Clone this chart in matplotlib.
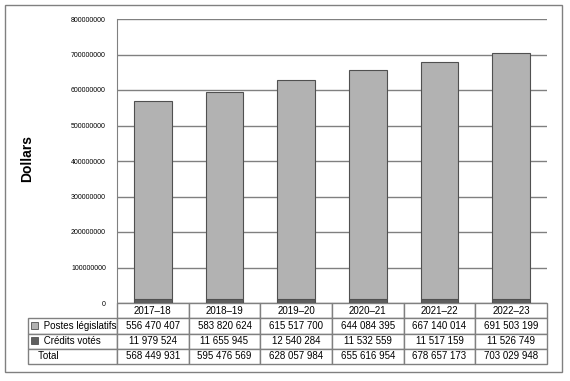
import matplotlib.pyplot as plt
from matplotlib.patches import Rectangle
import numpy as np

plt.rcParams['font.family'] = ['Liberation Sans', 'DejaVu Sans']

annees = ["2017–18", "2018–19", "2019–20", "2020–21", "2021–22", "2022–23"]
postes_legislatifs = [556470407, 583820624, 615517700, 644084395, 667140014, 691503199]
credits_votes = [11979524, 11655945, 12540284, 11532559, 11517159, 11526749]
total = [568449931, 595476569, 628057984, 655616954, 678657173, 703029948]

couleur_postes = "#b2b2b2"
couleur_credits = "#5f5f5f"
gris = "#808080"


def fmt(v):
    return f"{v:,}".replace(",", " ")


fig = plt.figure(figsize=(5.70, 3.81), dpi=100)
fig.patches.append(Rectangle((5 / 570, 1 - 372 / 381), 557 / 570, 367 / 381,
                             transform=fig.transFigure, fill=False,
                             edgecolor=gris, linewidth=1))

ax = fig.add_axes([117 / 570, 1 - 303 / 381, 430 / 570, 284 / 381])
x = np.arange(len(annees))
ax.bar(x, credits_votes, width=0.53, color=couleur_credits, edgecolor="#505050", linewidth=0.8)
ax.bar(x, postes_legislatifs, width=0.53, bottom=credits_votes, color=couleur_postes,
       edgecolor="#505050", linewidth=0.8)

ax.set_xlim(-0.5, len(annees) - 0.5)
ax.set_ylim(0, 800000000)
ax.set_yticks(np.arange(0, 800000001, 100000000))
ax.set_yticklabels([str(v) for v in np.arange(0, 800000001, 100000000)], fontsize=5)
ax.yaxis.grid(True, color=gris, linewidth=1)
ax.set_axisbelow(True)
ax.set_xticks([])
ax.tick_params(axis="y", length=0, pad=8)
for s in ["top", "right", "bottom"]:
    ax.spines[s].set_visible(False)
ax.spines["left"].set_color(gris)

fig.text(27 / 570, 1 - 159 / 381, "Dollars", rotation=90, fontsize=10,
         fontweight="bold", ha="center", va="center")

# tableau sous le graphique
cellules = [[""] + annees,
            ["     Postes législatifs"] + [fmt(v) for v in postes_legislatifs],
            ["     Crédits votés"] + [fmt(v) for v in credits_votes],
            ["   Total"] + [fmt(v) for v in total]]
largeur_lab = 89 / 430
tab = ax.table(cellText=cellules, cellLoc="center",
               colWidths=[largeur_lab] + [1 / 6] * 6,
               bbox=[-largeur_lab, -61 / 284, 1 + largeur_lab, 61 / 284])
tab.auto_set_font_size(False)
for (r, c), cell in tab.get_celld().items():
    cell.set_edgecolor(gris)
    cell.set_linewidth(1)
    cell.get_text().set_fontsize(7)
    if c == 0:
        cell.get_text().set_ha("left")
        cell.PAD = 0.02
    if r == 0 and c == 0:
        cell.set_visible(False)

# carrés de légende
for i, coul in enumerate([couleur_postes, couleur_credits]):
    yc = 1 - (325 + 15.5 * i) / 381
    fig.patches.append(Rectangle((31 / 570, yc - 3.5 / 381), 7 / 570, 7 / 381,
                                 transform=fig.transFigure, facecolor=coul,
                                 edgecolor="#505050", linewidth=0.6))

fig.savefig("out.png", dpi=100)
